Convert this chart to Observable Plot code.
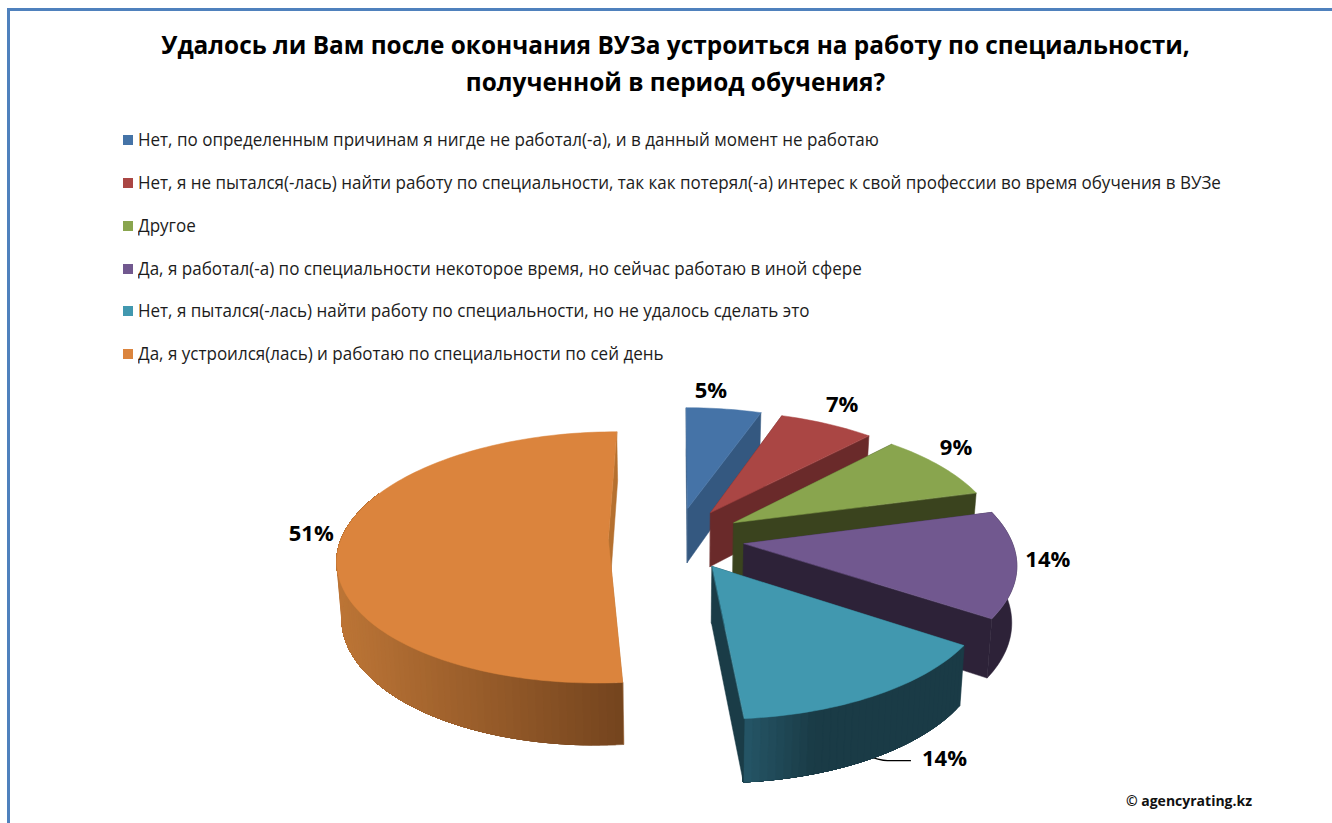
<!DOCTYPE html>
<html lang="ru">
<head>
<meta charset="utf-8">
<script src="https://cdn.jsdelivr.net/npm/d3@7"></script>
<script src="https://cdn.jsdelivr.net/npm/@observablehq/plot@0.6"></script>
<style>
  html, body { margin: 0; padding: 0; background: #fff; width: 1332px; height: 823px; overflow: hidden; }
  body { position: relative; font-family: "Open Sans", sans-serif; color: #000; }
  #frame { position: absolute; left: 7px; top: 8px; width: 1340px; height: 840px; border: 3px solid #4F81BD; box-sizing: border-box; pointer-events: none; }
  #head { position: relative; height: 378px; overflow: hidden; }
  .title { position: absolute; left: 0; width: 1351px; text-align: center; font-weight: 700; font-size: 24.4px; line-height: 30px; white-space: nowrap; color: #000; }
  .row { position: absolute; left: 138px; font-size: 17.3px; line-height: 22px; white-space: nowrap; color: #1c1c1c; transform-origin: 0 50%; transform: scaleX(0.985); }
  .key { position: absolute; left: 123px; width: 10px; height: 10px; }
  svg { display: block; position: absolute; left: 0; top: 378px; }
</style>
</head>
<body>
<div id="head"></div>
<div id="frame"></div>
<script>
const titleLines = [
  "Удалось ли Вам после окончания  ВУЗа устроиться на работу по специальности,",
  "полученной в период обучения?"
];
const categories = [
  "Нет, по определенным причинам я нигде не работал(-а), и в данный момент не работаю",
  "Нет, я не пытался(-лась) найти работу по специальности, так как потерял(-а) интерес к свой профессии во время обучения в ВУЗе",
  "Другое",
  "Да, я работал(-а) по специальности некоторое время, но сейчас работаю в иной сфере",
  "Нет, я пытался(-лась) найти работу по специальности, но не удалось сделать это",
  "Да, я устроился(лась) и работаю по специальности по сей день"
];
const values = [5.3, 6.7, 8.8, 13.6, 14.3, 51.3];
const topColors = ["#4573A7", "#AA4644", "#89A54E", "#71588F", "#4198AF", "#DB843D"];
const wallStart = ["#345880", "#6A2A2A", "#3A431E", "#2D2238", "#255667", "#BC7536"];
const wallEnd   = ["#345880", "#6A2A2A", "#3A431E", "#2D2238", "#1A3B46", "#74441E"];
const sideColors = ["#345880", "#6A2A2A", "#3A431E", "#2D2238", "#1A3C47", "#B5702F"];
const watermark = "© agencyrating.kz";

// page furniture
const head = d3.select("#head");
titleLines.forEach((t, i) => head.append("div").attr("class", "title").style("top", (30 + i * 36.5) + "px").text(t));
const rowY = [140, 183, 226, 269, 311, 354];
categories.forEach((c, i) => {
  head.append("div").attr("class", "key").style("top", (rowY[i] - 5) + "px").style("background", topColors[i]);
  head.append("div").attr("class", "row").style("top", (rowY[i] - 11) + "px").text(c);
});

// 3D pie geometry: world disc of radius 1, perspective projected
const view = {cx: 676, cy: 538, a: 267, b: 122.8, p: 0.14, explode: 0.255};
const project = (X, Y, down = false) => {
  const w = 1 + view.p * Y;
  const sx = view.cx + view.a * X / w;
  const sy = view.cy - view.b * Y / w;
  if (!down) return [sx, sy];
  const t = 55.5 - 6.5 * Y;
  return [view.cx + (sx - view.cx) * 0.985, sy + t];
};
const rad = d => d * Math.PI / 180;
const total = d3.sum(values);
const cum = d3.cumsum(values);
const slices = values.map((v, i) => {
  const a0 = (cum[i] - v) / total * 360, a1 = cum[i] / total * 360, mid = (a0 + a1) / 2;
  return {i, a0, a1, mid, ox: view.explode * Math.sin(rad(mid)), oy: view.explode * Math.cos(rad(mid))};
});
const rim = (s, ang, r = 1) => [s.ox + r * Math.sin(rad(ang)), s.oy + r * Math.cos(rad(ang))];

const polys = [];
let polyId = 0;
const addPoly = (pts, color) => { pts.forEach(p => polys.push({id: polyId, x: p[0], y: p[1], color})); polyId++; };

for (const s of slices) {
  const n = Math.max(4, Math.ceil((s.a1 - s.a0) / 1.5));
  const angs = d3.range(n + 1).map(k => s.a0 + (s.a1 - s.a0) * k / n);
  const apexT = project(s.ox, s.oy), apexB = project(s.ox, s.oy, true);
  const faces = [s.a0, s.a1].map(a => { const [X, Y] = rim(s, a); return [apexT, project(X, Y), project(X, Y, true), apexB]; });
  addPoly(faces[0], sideColors[s.i]);
  // outer wall, shaded in steps; each step paints over the rest of the arc so no seams show.
  // the part of the rim at the far side of the disc never shows, so it is left out
  const xs = angs.map(a => project(...rim(s, a))[0]);
  const xMin = d3.min(xs), xMax = d3.max(xs);
  const span = s.i === 4 ? 70 : xMax - xMin;
  const flat = wallStart[s.i] === wallEnd[s.i];
  for (let k = 0; k < (flat ? 1 : n); k++) {
    const rest = angs.slice(k).filter(a => rim(s, a)[1] < 0.4);
    if (rest.length < 2) continue;
    const topEdge = rest.map(a => project(...rim(s, a)));
    const botEdge = rest.map(a => project(...rim(s, a), true)).reverse();
    const t = Math.min(1, ((xs[k] + xs[k + 1]) / 2 - xMin) / span);
    addPoly([...topEdge, ...botEdge], d3.interpolateRgb(wallStart[s.i], wallEnd[s.i])(t));
  }
  addPoly(faces[1], sideColors[s.i]);
  addPoly([apexT, ...angs.map(a => project(...rim(s, a)))], topColors[s.i]);
}

// labels sit just outside the middle of each slice's rim
const labelNudge = [[-13, -18], [15, -19], [16, -18], [31, -4], [68, 64], [-28, -11]];
const labels = slices.map(s => {
  const p = project(...rim(s, s.mid));
  return {x: p[0] + labelNudge[s.i][0], y: p[1] + labelNudge[s.i][1], text: Math.round(values[s.i]) + "%"};
});
const tealMid = project(...rim(slices[4], slices[4].mid), true);
const leader = [
  {x: tealMid[0] - 9, y: tealMid[1] - 3},
  {x: tealMid[0] + 14, y: tealMid[1] + 3},
  {x: tealMid[0] + 37, y: tealMid[1] + 3}
];

const chart = Plot.plot({
  width: 1332, height: 445, margin: 0,
  x: {domain: [0, 1332], range: [0, 1332], axis: null},
  y: {domain: [378, 823], range: [0, 445], axis: null},
  color: {type: "identity"},
  style: {background: "transparent", overflow: "visible"},
  marks: [
    Plot.line(leader, {x: "x", y: "y", stroke: "#000", strokeWidth: 1.3, curve: "monotone-x"}),
    Plot.line(polys, {x: "x", y: "y", z: "id", fill: "color", stroke: "color", strokeWidth: 0.5, curve: "linear-closed"}),
    Plot.text(labels, {x: "x", y: "y", text: "text", fontSize: 22, fontWeight: 700, fill: "#000", fontFamily: "Open Sans, sans-serif"}),
    Plot.text([watermark], {x: [1188.5], y: [801], text: d => d, fontSize: 14, fontWeight: 700, fill: "#111", fontFamily: "Open Sans, sans-serif"})
  ]
});
document.body.appendChild(chart);
</script>
</body>
</html>
